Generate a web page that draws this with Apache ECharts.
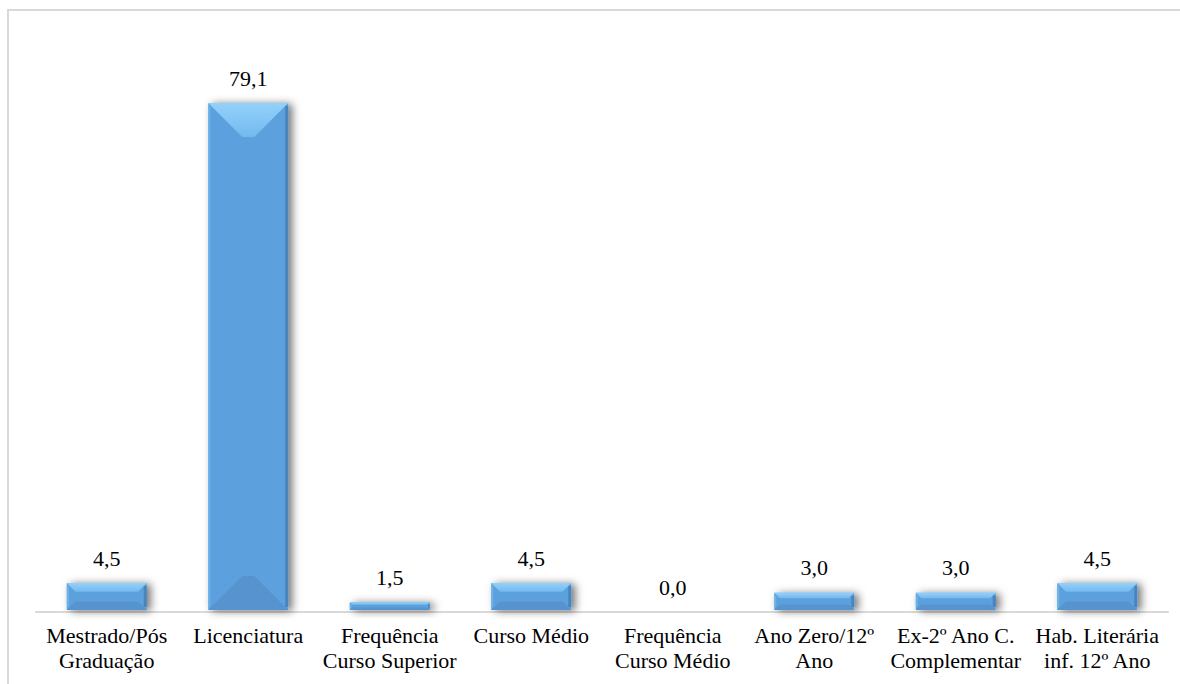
<!DOCTYPE html>
<html>
<head>
<meta charset="utf-8">
<style>
  html, body { margin: 0; padding: 0; background: #ffffff; }
  #chart { width: 1180px; height: 684px; }
</style>
<script src="https://cdn.jsdelivr.net/npm/echarts@6/dist/echarts.min.js"></script>
</head>
<body>
<div id="chart"></div>
<script>
// Habilitações literárias (%)
const categories = [
  'Mestrado/Pós\nGraduação',
  'Licenciatura',
  'Frequência\nCurso Superior',
  'Curso Médio',
  'Frequência\nCurso Médio',
  'Ano Zero/12º\nAno',
  'Ex-2º Ano C.\nComplementar',
  'Hab. Literária\ninf. 12º Ano'
];
const percentages = [4.5, 79.1, 1.5, 4.5, 0.0, 3.0, 3.0, 4.5];

const BAR_RATIO = 0.565;
const FONT = '"Liberation Serif", "Times New Roman", serif';

// Bevelled bar: body, lighter top face, darker bottom face, thin side edges, soft shadow
function renderBevelBar(params, api) {
  const v = api.value(1);
  if (!(v > 0)) return null;
  const top = api.coord([api.value(0), v]);
  const base = api.coord([api.value(0), 0]);
  const w = api.size([1, 0])[0] * BAR_RATIO;
  const x0 = top[0] - w / 2, x1 = top[0] + w / 2;
  const y0 = top[1], y1 = base[1] - 2;
  const h = y1 - y0;
  if (h <= 0) return null;
  const d = Math.min(34, h * 0.32);
  const e = Math.min(3, h * 0.2);
  return {
    type: 'group',
    children: [
      {
        type: 'rect',
        shape: { x: x0, y: y0, width: w, height: h },
        style: {
          fill: '#5ca1dd',
          shadowBlur: 9,
          shadowOffsetX: 4,
          shadowOffsetY: 1,
          shadowColor: 'rgba(0,0,0,0.55)'
        }
      },
      {
        type: 'polygon',
        shape: { points: [[x0, y1], [x1, y1], [x1 - d, y1 - d], [x0 + d, y1 - d]] },
        style: { fill: '#5693cf' }
      },
      {
        type: 'polygon',
        shape: { points: [[x0, y0], [x1, y0], [x1 - d, y0 + d], [x0 + d, y0 + d]] },
        style: {
          fill: {
            type: 'linear', x: 0, y: 0, x2: 0, y2: 1,
            colorStops: [
              { offset: 0, color: '#93d1fa' },
              { offset: 1, color: '#74b9ee' }
            ]
          }
        }
      },
      {
        type: 'rect',
        shape: { x: x1 - e, y: y0 + e, width: e, height: Math.max(0, h - 2 * e) },
        style: { fill: '#4a84bd' }
      },
      {
        type: 'rect',
        shape: { x: x0, y: y0 + e, width: Math.min(2, e), height: Math.max(0, h - 2 * e) },
        style: { fill: '#6db3ea' }
      }
    ]
  };
}

const chart = echarts.init(document.getElementById('chart'), null, { renderer: 'svg' });

chart.setOption({
  animation: false,
  backgroundColor: '#ffffff',
  graphic: [{
    type: 'rect',
    shape: { x: 8, y: 10, width: 1200, height: 700 },
    style: { fill: 'none', stroke: '#d9d9d9', lineWidth: 2 },
    silent: true,
    z: -10
  }],
  grid: { left: 36, right: 12, top: 33, bottom: 72 },
  xAxis: {
    type: 'category',
    data: categories,
    axisLine: { show: true, lineStyle: { color: '#d9d9d9', width: 2 } },
    axisTick: { show: false },
    axisLabel: {
      interval: 0,
      margin: 11,
      color: '#000000',
      fontFamily: FONT,
      fontSize: 22,
      lineHeight: 25
    }
  },
  yAxis: {
    type: 'value',
    min: 0,
    max: 90,
    show: false,
    splitLine: { show: false }
  },
  series: [
    {
      type: 'custom',
      renderItem: renderBevelBar,
      data: percentages.map((v, i) => [i, v]),
      encode: { x: 0, y: 1 },
      silent: true,
      z: 2
    },
    {
      type: 'bar',
      data: percentages,
      barWidth: (BAR_RATIO * 100) + '%',
      itemStyle: { color: 'rgba(0,0,0,0)' },
      silent: true,
      z: 3,
      label: {
        show: true,
        position: 'top',
        distance: 13,
        color: '#000000',
        fontFamily: FONT,
        fontSize: 22,
        lineHeight: 24,
        formatter: p => p.value.toFixed(1).replace('.', ',')
      }
    }
  ]
});
</script>
</body>
</html>
